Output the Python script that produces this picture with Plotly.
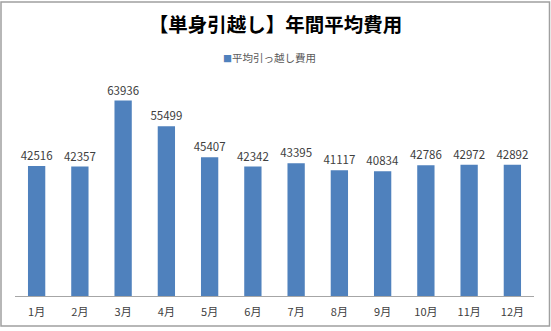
import plotly.graph_objects as go

months = ["1月", "2月", "3月", "4月", "5月", "6月", "7月", "8月", "9月", "10月", "11月", "12月"]
costs = [42516, 42357, 63936, 55499, 45407, 42342, 43395, 41117, 40834, 42786, 42972, 42892]
series_name = "平均引っ越し費用"
title_text = "【単身引越し】年間平均費用"

W, H = 551, 331
ml, mr, mt, mb = 15, 17, 82, 32
pw, ph = W - ml - mr, H - mt - mb

def px_x(px):
    return (px - ml) / pw

def px_y(py):
    return (H - mb - py) / ph

fig = go.Figure()
fig.add_trace(go.Bar(
    x=months, y=costs, name=series_name,
    marker=dict(color="#4F81BD", line=dict(width=0)),
    width=0.4,
    text=[str(v) for v in costs], textposition="outside",
    constraintext="none",
    textfont=dict(family="Noto Sans CJK JP, sans-serif", size=11.5, color="#404040"),
    cliponaxis=False, showlegend=False,
))

fig.update_layout(
    width=W, height=H,
    margin=dict(l=ml, r=mr, t=mt, b=mb),
    paper_bgcolor="white", plot_bgcolor="white",
    title=dict(text=title_text, x=0.5, xanchor="center", y=1 - 25 / H, yanchor="middle",
               font=dict(family="Noto Sans CJK JP, sans-serif", size=19.5, color="#000000", weight="bold")),
    showlegend=False,
    xaxis=dict(showgrid=False, showline=True, linecolor="#A6A6A6", linewidth=1,
               ticks="", tickfont=dict(family="Noto Sans CJK JP, sans-serif", size=11, color="#404040"),
               ticklabelstandoff=6),
    yaxis=dict(range=[0, 70000], visible=False, showgrid=False),
    annotations=[dict(
        text="<span style='color:#4F81BD;font-size:9px'>■</span>" + series_name,
        xref="paper", yref="paper", x=px_x(269), y=px_y(57), xanchor="center", yanchor="middle",
        showarrow=False,
        font=dict(family="Noto Sans CJK JP, sans-serif", size=10.5, color="#595959"),
    )],
    shapes=[dict(type="rect", xref="paper", yref="paper",
                 x0=px_x(1), x1=px_x(549.5), y0=px_y(329.5), y1=px_y(1),
                 line=dict(color="#A0A0A0", width=1.5), fillcolor="rgba(0,0,0,0)", layer="above")],
)

fig.write_html("out.html")
